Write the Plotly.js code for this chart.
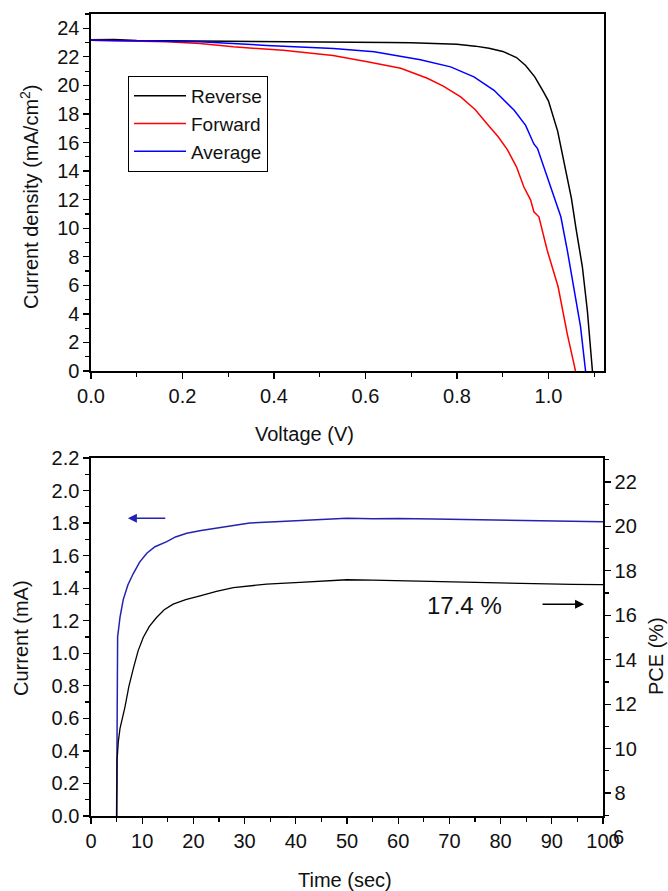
<!DOCTYPE html>
<html>
<head>
<meta charset="utf-8">
<script src="https://cdn.plot.ly/plotly-3.0.1.min.js"></script>
<style>html,body{margin:0;padding:0;background:#fff;}#chart{width:668px;height:891px;}</style>
</head>
<body>
<div id="chart"></div>
<script>
// ---- J-V data (top panel) ----
const reverseV = [0, 0.05, 0.1, 0.15, 0.2, 0.3, 0.4, 0.5, 0.6, 0.65, 0.7, 0.75, 0.8, 0.84, 0.87, 0.9, 0.93, 0.95, 0.97, 0.99, 1.0, 1.02, 1.04, 1.05, 1.06, 1.074, 1.085, 1.092, 1.096];
const reverseJ = [23.2, 23.22, 23.15, 23.14, 23.12, 23.08, 23.06, 23.04, 23.02, 23.0, 22.98, 22.95, 22.88, 22.75, 22.6, 22.38, 21.95, 21.4, 20.6, 19.5, 18.9, 16.8, 13.8, 12.1, 10.0, 7.3, 4.2, 1.5, 0];

const forwardV = [0, 0.1, 0.165, 0.238, 0.311, 0.42, 0.529, 0.604, 0.677, 0.735, 0.77, 0.808, 0.84, 0.866, 0.89, 0.91, 0.93, 0.946, 0.961, 0.968, 0.979, 0.997, 1.008, 1.021, 1.041, 1.059];
const forwardJ = [23.16, 23.1, 23.05, 22.93, 22.7, 22.46, 22.1, 21.65, 21.2, 20.5, 19.95, 19.2, 18.3, 17.3, 16.4, 15.5, 14.3, 12.9, 11.97, 11.15, 10.8, 8.47, 7.3, 5.9, 2.6, 0];

const averageV = [0, 0.1, 0.238, 0.384, 0.53, 0.619, 0.72, 0.786, 0.837, 0.881, 0.925, 0.95, 0.968, 0.976, 0.997, 1.016, 1.027, 1.041, 1.056, 1.07, 1.081];
const averageJ = [23.16, 23.12, 23.05, 22.8, 22.58, 22.35, 21.8, 21.3, 20.6, 19.66, 18.26, 17.2, 15.9, 15.58, 13.6, 11.97, 10.8, 8.47, 5.67, 3.1, 0];

// ---- Stabilized output data (bottom panel) ----
const currentT = [5, 5.05, 5.2, 5.66, 6.3, 7.2, 8.26, 9.5, 10.9, 12.5, 14.8, 16.5, 18.7, 21.5, 24.5, 27.5, 31, 36, 40.8, 47.3, 50, 55, 60, 67, 73, 80, 85, 89, 95, 97, 99.5, 100];
const currentI = [0, 0.9, 1.1, 1.22, 1.33, 1.42, 1.49, 1.56, 1.615, 1.655, 1.686, 1.715, 1.738, 1.755, 1.768, 1.785, 1.80, 1.808, 1.815, 1.822, 1.829, 1.826, 1.828, 1.825, 1.822, 1.819, 1.817, 1.815, 1.812, 1.81, 1.807, 1.808];

const pceT = [5, 5.1, 5.33, 5.66, 6.64, 7.4, 8.26, 9.2, 10.2, 11.4, 12.8, 14.3, 16.05, 18.5, 21.3, 24.5, 27.8, 34.3, 40.8, 47.3, 50, 55, 60.5, 67, 73.5, 78, 83.3, 89.1, 94, 99.5, 100];
const pceVal = [6.0, 9.5, 10.3, 10.9, 11.88, 12.8, 13.6, 14.4, 15.0, 15.5, 15.9, 16.25, 16.5, 16.7, 16.87, 17.08, 17.25, 17.4, 17.48, 17.55, 17.6, 17.58, 17.55, 17.53, 17.5, 17.48, 17.45, 17.4, 17.39, 17.38, 17.38];

const seriesNames = ["Reverse", "Forward", "Average"];
const pceLabel = "17.4 %";

// ---- layout helpers (pixel -> paper) ----
const W = 668, H = 891;
const px = x => x / W;
const py = y => 1 - y / H;

const FONT = "Liberation Sans, Arial, sans-serif";
const BLUE2 = "#2323b0";

function axisBase(extra) {
  return Object.assign({
    showgrid: false, zeroline: false,
    showline: true, linecolor: "black", linewidth: 1.6,
    ticks: "outside", ticklen: 6, tickwidth: 1.3, tickcolor: "black",
    tickfont: {family: FONT, size: 20, color: "#111"},
    fixedrange: true
  }, extra);
}

const traces = [
  {x: reverseV, y: reverseJ, name: seriesNames[0], mode: "lines", line: {color: "black", width: 1.5}, xaxis: "x", yaxis: "y"},
  {x: forwardV, y: forwardJ, name: seriesNames[1], mode: "lines", line: {color: "#ff0000", width: 1.5}, xaxis: "x", yaxis: "y"},
  {x: averageV, y: averageJ, name: seriesNames[2], mode: "lines", line: {color: "#0000ff", width: 1.5}, xaxis: "x", yaxis: "y"},
  {x: currentT, y: currentI, name: "Current", showlegend: false, mode: "lines", line: {color: BLUE2, width: 1.5}, xaxis: "x2", yaxis: "y2"},
  {x: pceT, y: pceVal, name: "PCE", showlegend: false, mode: "lines", line: {color: "black", width: 1.3}, xaxis: "x2", yaxis: "y3"}
];

const layout = {
  width: W, height: H,
  margin: {l: 0, r: 0, t: 0, b: 0},
  paper_bgcolor: "white", plot_bgcolor: "white",
  font: {family: FONT, size: 20, color: "#111"},
  xaxis: axisBase({domain: [px(91), px(604)], range: [0, 1.1213], dtick: 0.2, tick0: 0, tickformat: ".1f", mirror: true, anchor: "y",
    minor: {dtick: 0.1, ticks: "outside", ticklen: 4, tickcolor: "black", tickwidth: 1.2}}),
  yaxis: axisBase({domain: [py(371), py(14)], range: [0, 25], dtick: 2, tick0: 0, mirror: true, anchor: "x",
    minor: {dtick: 1, ticks: "outside", ticklen: 4, tickcolor: "black", tickwidth: 1.2}}),
  xaxis2: axisBase({domain: [px(91), px(603)], range: [0, 100], dtick: 10, tick0: 0, mirror: true, anchor: "y2",
    minor: {dtick: 5, ticks: "outside", ticklen: 4, tickcolor: "black", tickwidth: 1.2}}),
  yaxis2: axisBase({domain: [py(816), py(458)], range: [0, 2.2], dtick: 0.2, tick0: 0, tickformat: ".1f", mirror: true, anchor: "x2",
    minor: {dtick: 0.1, ticks: "outside", ticklen: 4, tickcolor: "black", tickwidth: 1.2}}),
  yaxis3: axisBase({overlaying: "y2", side: "right", anchor: "x2", range: [6.965, 23.08], tickvals: [8, 10, 12, 14, 16, 18, 20, 22],
    minor: {dtick: 1, tick0: 0, ticks: "outside", ticklen: 4, tickcolor: "black", tickwidth: 1.2}}),
  legend: {
    x: px(128), y: py(76), xanchor: "left", yanchor: "top",
    bordercolor: "black", borderwidth: 1, bgcolor: "white",
    font: {family: FONT, size: 19, color: "#111"},
    itemwidth: 52, tracegroupgap: 0
  },
  annotations: [
    {text: "Voltage (V)", xref: "paper", yref: "paper", x: px(304), y: py(434), xanchor: "center", yanchor: "middle", showarrow: false, font: {family: FONT, size: 20, color: "#111"}},
    {text: "Current density (mA/cm<sup>2</sup>)", xref: "paper", yref: "paper", x: px(29), y: py(197), xanchor: "center", yanchor: "middle", textangle: -90, showarrow: false, font: {family: FONT, size: 20, color: "#111"}},
    {text: "Current (mA)", xref: "paper", yref: "paper", x: px(21), y: py(638), xanchor: "center", yanchor: "middle", textangle: -90, showarrow: false, font: {family: FONT, size: 20, color: "#111"}},
    {text: "PCE (%)", xref: "paper", yref: "paper", x: px(656), y: py(656), xanchor: "center", yanchor: "middle", textangle: -90, showarrow: false, font: {family: FONT, size: 20, color: "#111"}},
    {text: "Time (sec)", xref: "paper", yref: "paper", x: px(345), y: py(880), xanchor: "center", yanchor: "middle", showarrow: false, font: {family: FONT, size: 20, color: "#111"}},
    {text: "6", xref: "paper", yref: "paper", x: px(611), y: py(837), xanchor: "left", yanchor: "middle", showarrow: false, font: {family: FONT, size: 20, color: "#111"}},
    {text: pceLabel, xref: "x2", yref: "y3", x: 73.0, y: 16.42, xanchor: "center", yanchor: "middle", showarrow: false, font: {family: FONT, size: 24, color: "#111"}},
    {text: "", xref: "x2", yref: "y2", x: 7.2, y: 1.83, axref: "x2", ayref: "y2", ax: 14.8, ay: 1.83, showarrow: true, arrowhead: 2, arrowsize: 1.2, arrowwidth: 1.5, arrowcolor: BLUE2},
    {text: "", xref: "x2", yref: "y3", x: 96.3, y: 16.5, axref: "x2", ayref: "y3", ax: 87.9, ay: 16.5, showarrow: true, arrowhead: 2, arrowsize: 1.2, arrowwidth: 1.5, arrowcolor: "black"}
  ]
};

Plotly.newPlot("chart", traces, layout, {staticPlot: true, displayModeBar: false});
</script>
</body>
</html>
